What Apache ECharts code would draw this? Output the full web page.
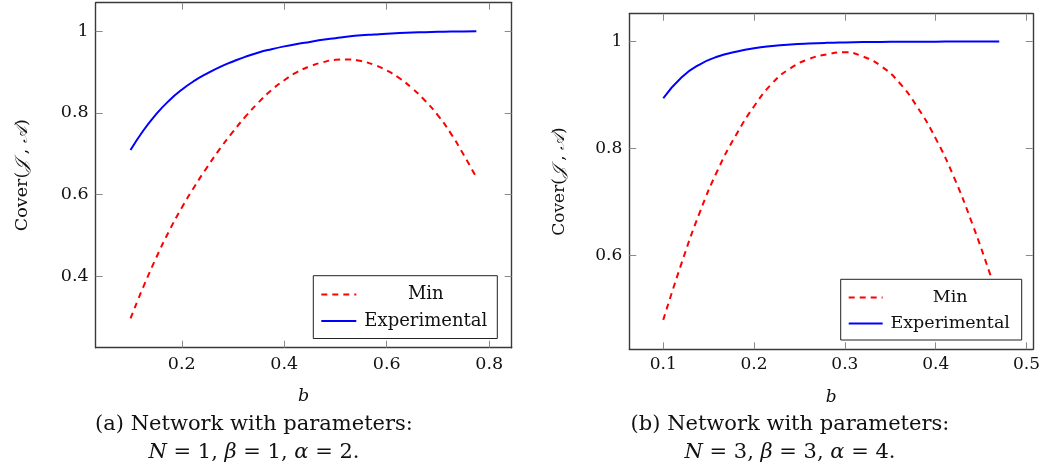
<!DOCTYPE html>
<html><head><meta charset="utf-8">
<script src="https://cdn.jsdelivr.net/npm/echarts@6/dist/echarts.min.js"></script>
<style>html,body{margin:0;padding:0;background:#fff}#c{width:1043px;height:470px}</style>
</head><body><div id="c"></div>
<script>
// ---- Panel (a): N = 1, beta = 1, alpha = 2 ----
const bA = [0.100,0.125,0.150,0.175,0.200,0.225,0.250,0.275,0.300,0.325,0.350,0.375,0.400,0.425,0.450,0.475,0.500,0.525,0.550,0.575,0.600,0.625,0.650,0.675,0.700,0.725,0.750,0.775];
const minA = [0.297,0.374,0.445,0.510,0.568,0.620,0.668,0.713,0.754,0.792,0.826,0.856,0.880,0.900,0.914,0.924,0.930,0.931,0.927,0.918,0.904,0.885,0.860,0.830,0.794,0.750,0.698,0.642];
const expA = [0.709,0.757,0.797,0.830,0.857,0.879,0.897,0.913,0.926,0.938,0.948,0.956,0.963,0.969,0.974,0.979,0.983,0.987,0.990,0.992,0.994,0.9955,0.9968,0.9978,0.9986,0.9992,0.9997,1.000];
const xTicksA = [0.2,0.4,0.6,0.8];
const yTicksA = [0.4,0.6,0.8,1];

// ---- Panel (b): N = 3, beta = 3, alpha = 4 ----
const bB = [0.10,0.12,0.14,0.16,0.18,0.20,0.22,0.24,0.26,0.28,0.30,0.32,0.34,0.36,0.38,0.40,0.42,0.44,0.46,0.47];
const minB = [0.480,0.585,0.680,0.760,0.825,0.879,0.922,0.950,0.967,0.976,0.980,0.972,0.954,0.923,0.877,0.819,0.747,0.661,0.565,0.513];
const expB = [0.894,0.933,0.957,0.972,0.981,0.9875,0.9915,0.9943,0.9962,0.9975,0.9983,0.9989,0.9993,0.9995,0.9997,0.9998,0.9999,0.9999,1.0,1.0];
const xTicksB = [0.1,0.2,0.3,0.4,0.5];
const yTicksB = [0.6,0.8,1];

const seriesNames = ['Min','Experimental'];
const xName = 'b';
const yName = 'Cover({i|𝒥} , {i|𝒜})';
const captionA = ['(a) Network with parameters:', '{i|N} = 1, {i|β} = 1, {i|α} = 2.'];
const captionB = ['(b) Network with parameters:', '{i|N} = 3, {i|β} = 3, {i|α} = 4.'];

const FONT = '"DejaVu Serif", "Liberation Serif", serif';
const frame = '#3a3a3a', tickC = '#8a8a8a';

function pairs(xs, ys){ return xs.map((x,i)=>[x, ys[i]]); }

function axesFor(gi, xr, yr, xt, yt, fs, yGap, xLblMargin, xNameGap){
  const lineSt = {show:true, lineStyle:{color:frame, width:1.4}};
  const tickSt = (vals)=>({show:true, inside:true, length:7, customValues:vals, lineStyle:{color:tickC, width:1}});
  const xs = [
    {type:'value', gridIndex:gi, position:'bottom', min:xr[0], max:xr[1],
     axisLine:lineSt, axisTick:tickSt(xt), splitLine:{show:false},
     axisLabel:{customValues:xt, margin:xLblMargin, color:'#111', fontFamily:FONT, fontSize:fs, formatter:v=>String(v)},
     name:xName, nameLocation:'middle', nameGap:xNameGap,
     nameTextStyle:{fontFamily:FONT, fontStyle:'italic', fontSize:fs, color:'#111'}},
    {type:'value', gridIndex:gi, position:'top', min:xr[0], max:xr[1],
     axisLine:lineSt, axisTick:tickSt(xt), axisLabel:{show:false}, splitLine:{show:false}}
  ];
  const ys = [
    {type:'value', gridIndex:gi, position:'left', min:yr[0], max:yr[1],
     axisLine:lineSt, axisTick:tickSt(yt), splitLine:{show:false},
     axisLabel:{customValues:yt, margin:7, color:'#111', fontFamily:FONT, fontSize:fs, formatter:v=>String(v)},
     name:yName, nameLocation:'middle', nameGap:yGap, nameRotate:90,
     nameTextStyle:{fontFamily:FONT, fontSize:fs, color:'#111',
       rich:{i:{fontFamily:FONT, fontStyle:'italic', fontSize:fs, color:'#111'}}}},
    {type:'value', gridIndex:gi, position:'right', min:yr[0], max:yr[1],
     axisLine:lineSt, axisTick:tickSt(yt), axisLabel:{show:false}, splitLine:{show:false}}
  ];
  return {xs, ys};
}

const A = axesFor(0, [0.032,0.844], [0.225,1.070], xTicksA, yTicksA, 17.5, 64, 8, 40);
const B = axesFor(1, [0.0626,0.507], [0.425,1.052], xTicksB, yTicksB, 17, 61, 7, 40);

function mkSeries(name, data, xi, yi, dashed){
  return {type:'line', name, data, xAxisIndex:xi, yAxisIndex:yi,
    symbol:'none', showSymbol:false, smooth:0.5,
    lineStyle:{color: dashed ? '#ff0000' : '#0000ff', width:2, type: dashed ? [6,5] : 'solid'},
    itemStyle:{color: dashed ? '#ff0000' : '#0000ff'}, z:2};
}

function legendAt(left, top, fs, w, iw, gap, pad){
  return {data:seriesNames, orient:'vertical', left, top, itemWidth:iw, itemHeight:22, itemGap:gap,
    padding:pad, backgroundColor:'#fff', borderColor:'#222', borderWidth:1, borderRadius:0,
    selectedMode:false, z:10,
    itemStyle:{color:'rgba(0,0,0,0)', borderWidth:0, borderColor:'rgba(0,0,0,0)', opacity:0},
    formatter: n => '{t|' + n + '}',
    textStyle:{fontFamily:FONT, fontSize:fs, color:'#111',
      rich:{t:{fontFamily:FONT, fontSize:fs, color:'#111', width:w, align:'center', lineHeight:22}}}};
}

function caption(lines, cx){
  return [
    {type:'text', x:cx, y:425, style:{text:lines[0], x:0, y:0, align:'center', verticalAlign:'middle', font:'21px '+FONT, fill:'#111'}},
    {type:'text', x:cx, y:453, style:{text:lines[1], x:0, y:0, align:'center', verticalAlign:'middle', font:'21px '+FONT, fill:'#111',
      rich:{i:{fontFamily:FONT, fontStyle:'italic', fontSize:21, fill:'#111'}}}}
  ];
}

const chart = echarts.init(document.getElementById('c'), null, {renderer:'canvas'});
chart.setOption({
  backgroundColor:'#fff',
  animation:false,
  grid:[
    {left:95.7, top:2.7, width:416, height:345},
    {left:629.3, top:13.7, width:404, height:335.6}
  ],
  xAxis:[...A.xs, ...B.xs],
  yAxis:[...A.ys, ...B.ys],
  legend:[
    legendAt(313.3, 275.7, 18, 129, 35, 8.7, [9.7,7,8.4,7]),
    legendAt(840.7, 279.3, 17.5, 125, 34, 8, [9.1,9,7.6,7])
  ],
  series:[
    mkSeries('Min', pairs(bA, minA), 0, 0, true),
    mkSeries('Experimental', pairs(bA, expA), 0, 0, false),
    mkSeries('Min', pairs(bB, minB), 2, 2, true),
    mkSeries('Experimental', pairs(bB, expB), 2, 2, false)
  ],
  graphic:[...caption(captionA, 254), ...caption(captionB, 790)]
});
</script></body></html>
